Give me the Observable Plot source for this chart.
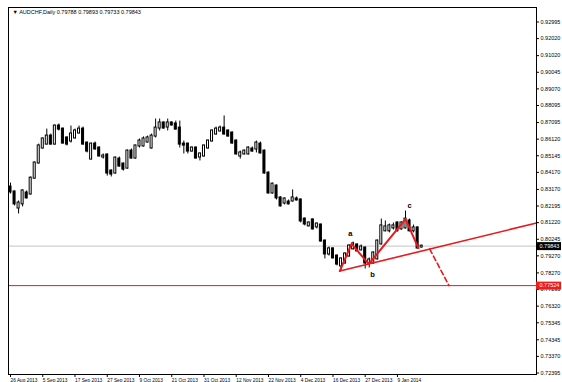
<!DOCTYPE html>
<html>
<head>
<meta charset="utf-8">
<script src="https://cdn.jsdelivr.net/npm/d3@7"></script>
<script src="https://cdn.jsdelivr.net/npm/@observablehq/plot@0.6"></script>
<style>
  html, body { margin: 0; padding: 0; background: #fff; }
  #chart svg { display: block; }
</style>
</head>
<body>
<div id="chart"></div>
<script>
// ---- Data (AUDCHF Daily) ----
const symbolName = "AUDCHF,Daily";
const opens  = [0.8331,0.8302,0.8208,0.8232,0.8296,0.8290,0.8383,0.8472,0.8560,0.8583,
                0.8630,0.8583,0.8689,0.8671,0.8619,0.8601,0.8619,0.8648,0.8671,0.8589,
                0.8495,0.8583,0.8560,0.8507,0.8519,0.8425,0.8413,0.8495,0.8466,0.8442,
                0.8542,0.8501,0.8572,0.8572,0.8595,0.8560,0.8630,0.8677,0.8707,0.8683,
                0.8707,0.8701,0.8677,0.8583,0.8583,0.8542,0.8560,0.8507,0.8513,0.8560,
                0.8601,0.8642,0.8660,0.8677,0.8660,0.8648,0.8601,0.8513,0.8525,0.8525,
                0.8554,0.8554,0.8583,0.8542,0.8413,0.8296,0.8337,0.8267,0.8237,0.8243,
                0.8249,0.8261,0.8255,0.8143,0.8103,0.8138,0.8097,0.8108,0.8014,0.7938,
                0.7968,0.7926,0.7868,0.7885,0.7926,0.7968,0.7991,0.7962,0.7973,0.7885,
                0.7885,0.7909,0.7997,0.8074,0.8074,0.8091,0.8120,0.8085,0.8091,0.8132,
                0.8074,0.8091,0.79788];
const highs  = [0.8354,0.8308,0.8249,0.8314,0.8308,0.8390,0.8478,0.8583,0.8619,0.8671,
                0.8642,0.8695,0.8701,0.8677,0.8625,0.8689,0.8671,0.8689,0.8683,0.8595,
                0.8589,0.8595,0.8566,0.8525,0.8525,0.8431,0.8507,0.8507,0.8472,0.8548,
                0.8554,0.8577,0.8613,0.8625,0.8630,0.8642,0.8730,0.8730,0.8713,0.8730,
                0.8713,0.8718,0.8718,0.8601,0.8589,0.8566,0.8566,0.8531,0.8577,0.8607,
                0.8665,0.8683,0.8689,0.8748,0.8665,0.8654,0.8607,0.8542,0.8548,0.8566,
                0.8566,0.8601,0.8595,0.8548,0.8419,0.8354,0.8343,0.8273,0.8267,0.8255,
                0.8314,0.8273,0.8261,0.8149,0.8126,0.8143,0.8120,0.8114,0.8020,0.7979,
                0.7973,0.7932,0.7915,0.7944,0.7991,0.8008,0.7997,0.7991,0.7979,0.7915,
                0.7950,0.8020,0.8143,0.8132,0.8114,0.8120,0.8126,0.8126,0.8190,0.8143,
                0.8108,0.8097,0.79893];
const lows   = [0.8290,0.8220,0.8173,0.8214,0.8261,0.8284,0.8378,0.8466,0.8554,0.8577,
                0.8577,0.8577,0.8660,0.8583,0.8572,0.8589,0.8613,0.8642,0.8577,0.8531,
                0.8490,0.8548,0.8507,0.8495,0.8395,0.8390,0.8407,0.8448,0.8425,0.8436,
                0.8495,0.8495,0.8560,0.8566,0.8589,0.8554,0.8619,0.8660,0.8671,0.8660,
                0.8689,0.8665,0.8560,0.8525,0.8525,0.8536,0.8495,0.8484,0.8507,0.8554,
                0.8595,0.8636,0.8654,0.8636,0.8625,0.8583,0.8519,0.8495,0.8519,0.8519,
                0.8536,0.8531,0.8525,0.8407,0.8290,0.8290,0.8255,0.8214,0.8226,0.8226,
                0.8243,0.8249,0.8120,0.8103,0.8097,0.8079,0.8085,0.8008,0.7909,0.7926,
                0.7909,0.7868,0.7838,0.7879,0.7920,0.7962,0.7950,0.7956,0.7850,0.7856,
                0.7879,0.7903,0.7991,0.8068,0.8062,0.8079,0.8068,0.8079,0.8085,0.8068,
                0.8062,0.7968,0.79733];
const closes = [0.8302,0.8232,0.8237,0.8308,0.8267,0.8383,0.8472,0.8572,0.8613,0.8630,
                0.8583,0.8689,0.8671,0.8589,0.8583,0.8642,0.8660,0.8671,0.8583,0.8542,
                0.8583,0.8554,0.8513,0.8513,0.8413,0.8407,0.8501,0.8454,0.8436,0.8542,
                0.8501,0.8572,0.8601,0.8613,0.8619,0.8630,0.8677,0.8707,0.8677,0.8707,
                0.8695,0.8671,0.8583,0.8577,0.8542,0.8560,0.8501,0.8525,0.8572,0.8601,
                0.8660,0.8671,0.8677,0.8642,0.8630,0.8589,0.8525,0.8531,0.8542,0.8560,
                0.8542,0.8589,0.8531,0.8413,0.8296,0.8348,0.8267,0.8220,0.8261,0.8232,
                0.8267,0.8255,0.8132,0.8114,0.8120,0.8085,0.8114,0.8014,0.7938,0.7968,
                0.7915,0.7879,0.7909,0.7938,0.7985,0.7997,0.7956,0.7979,0.7885,0.7903,
                0.7944,0.8014,0.8103,0.8097,0.8103,0.8103,0.8074,0.8120,0.8143,0.8074,
                0.8091,0.7973,0.79843];

// date labels every 8 bars (bar index of each label)
const dateTickBars = [0, 8, 16, 24, 32, 40, 48, 56, 64, 72, 80, 88, 96];
const dateTickLabels = ["26 Aug 2013","5 Sep 2013","17 Sep 2013","27 Sep 2013","9 Oct 2013",
  "21 Oct 2013","31 Oct 2013","12 Nov 2013","22 Nov 2013","4 Dec 2013","16 Dec 2013",
  "27 Dec 2013","9 Jan 2014"];

// price axis labels
const priceTicks = [0.92995,0.92020,0.91020,0.90045,0.89070,0.88095,0.87095,0.86120,0.85145,
  0.84170,0.83170,0.82195,0.81220,0.80245,0.79270,0.78270,0.77295,0.76320,0.75345,0.74345,
  0.73370,0.72395];

// drawn objects
const bidPrice = 0.79843;
const supportPrice = 0.77524;
const zigzagBars   = [81.7, 84.6, 88.9, 98.0, 101.2];
const zigzagPrices = [0.7838, 0.7997, 0.7879, 0.8143, 0.7973];
const trendBars    = [81.7, 130.5];
const trendPrices  = [0.7838, 0.8120];
const dashBars     = [104.0, 108.8];
const dashPrices   = [0.7967, 0.77524];
const waveNames    = ["a", "b", "c"];
const waveBars     = [84.3, 89.8, 99.0];
const wavePrices   = [0.8055, 0.7815, 0.8222];

// ---- build tables ----
const bars = opens.map((o, i) => ({i, o, h: highs[i], l: lows[i], c: closes[i]}));
const zigzag = zigzagBars.map((b, k) => ({b, p: zigzagPrices[k]}));
const trend = trendBars.map((b, k) => ({b, p: trendPrices[k]}));
const dash = dashBars.map((b, k) => ({b, p: dashPrices[k]}));
const waves = waveNames.map((t, k) => ({t, b: waveBars[k], p: wavePrices[k]}));
const last = bars[bars.length - 1];
const fmt = d3.format(".5f");
const title = "\u25BC " + symbolName + " " + [last.o, last.h, last.l, last.c].map(fmt).join(" ");
const priceBoxes = [{p: bidPrice, color: "#000000"}, {p: supportPrice, color: "#ee1c1c"}];

const RED = "#e8191c";
const FONT = "'Liberation Sans', Arial, sans-serif";

const chart = Plot.plot({
  width: 562,
  height: 382,
  marginLeft: 8,
  marginRight: 26,
  marginTop: 7,
  marginBottom: 8,
  style: {fontFamily: FONT, background: "#fff", color: "#000", overflow: "visible"},
  x: {domain: [-0.5, 130.5]},
  y: {domain: [0.72308, 0.93846]},
  marks: [
    Plot.ruleY([bidPrice], {stroke: "#c4c4c4", strokeWidth: 1}),
    Plot.ruleY([supportPrice], {stroke: RED, strokeWidth: 1}),
    Plot.ruleX(bars, {x: "i", y1: "l", y2: "h", stroke: "#000", strokeWidth: 1}),
    Plot.rect(bars, {
      x1: d => d.i - 0.25, x2: d => d.i + 0.25,
      y1: d => Math.min(d.o, d.c), y2: d => Math.max(d.o, d.c),
      fill: d => d.c >= d.o ? "#fff" : "#000",
      stroke: "#000", strokeWidth: 1, insetTop: -0.5, insetBottom: -0.5
    }),
    Plot.line(trend, {x: "b", y: "p", stroke: RED, strokeWidth: 1.6}),
    Plot.line(zigzag, {x: "b", y: "p", stroke: RED, strokeWidth: 2}),
    Plot.line(dash, {x: "b", y: "p", stroke: RED, strokeWidth: 1.6, strokeDasharray: "5,3"}),
    Plot.text(waves, {x: "b", y: "p", text: "t", fontSize: 7.5, fontWeight: "bold", fill: "#000"}),
    Plot.frame({stroke: "#000", strokeWidth: 1}),
    Plot.axisY({anchor: "right", ticks: priceTicks, tickFormat: fmt, tickSize: 2, tickPadding: 2,
      fontSize: 5.5, label: null}),
    Plot.axisX({anchor: "bottom", ticks: dateTickBars,
      tickFormat: d => dateTickLabels[dateTickBars.indexOf(d)],
      textAnchor: "start", tickSize: 3, tickPadding: 1, fontSize: 4.8, label: null}),
    Plot.ruleY(priceBoxes, {y: "p", stroke: "color", strokeWidth: 8, insetLeft: 528, insetRight: -25}),
    Plot.text(priceBoxes, {y: "p", text: d => fmt(d.p), frameAnchor: "right", dx: 3,
      textAnchor: "start", fill: "#fff", fontSize: 5.5}),
    Plot.text([title], {frameAnchor: "top-left", dx: 4, dy: 3, textAnchor: "start",
      lineAnchor: "top", fontSize: 5.5, fill: "#000"})
  ]
});
document.getElementById("chart").appendChild(chart);
</script>
</body>
</html>
